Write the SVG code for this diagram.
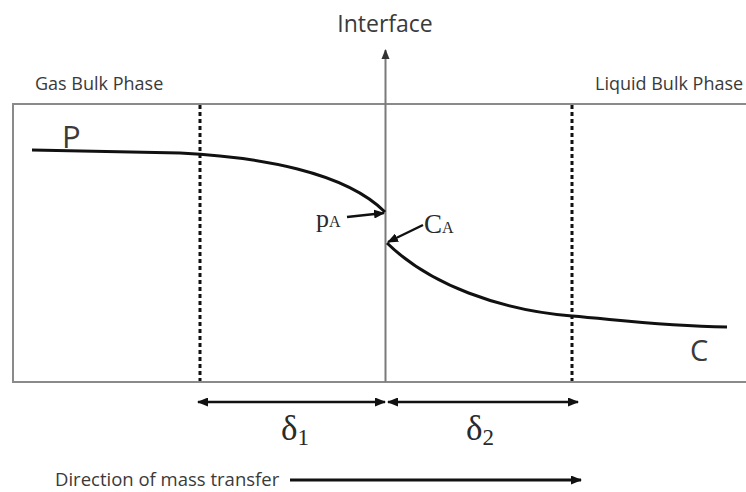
<svg xmlns="http://www.w3.org/2000/svg" width="746" height="492" viewBox="0 0 746 492">
<style>
.lbl{font-family:"Open Sans","Liberation Sans",sans-serif;fill:#3a3a3a}
.ser{font-family:"Liberation Serif","DejaVu Serif",serif;fill:#2a2a2a}
.box{fill:none;stroke:#8a8a8a;stroke-width:2}
.dash{stroke:#111;stroke-width:3;stroke-dasharray:4 3}
.curve{fill:none;stroke:#111;stroke-width:3}
.arr{stroke:#111;stroke-width:2.5;fill:none}
</style>
<defs>
<marker id="ah" markerWidth="11" markerHeight="9" refX="10" refY="4.5" orient="auto" markerUnits="userSpaceOnUse"><path d="M0,0 L11,4.5 L0,9 Z" fill="#111"/></marker>
<marker id="ahs" markerWidth="11" markerHeight="9" refX="1" refY="4.5" orient="auto" markerUnits="userSpaceOnUse"><path d="M11,0 L0,4.5 L11,9 Z" fill="#111"/></marker>
<marker id="ahi" markerWidth="10" markerHeight="10" refX="9" refY="5" orient="auto" markerUnits="userSpaceOnUse"><path d="M0,1 L10,5 L0,9 Z" fill="#333"/></marker>
</defs>
<g id="frame">
<path class="box" d="M748,104 H13 V382 H748"/>
</g>
<g id="dashes">
<line class="dash" x1="200" y1="105" x2="200" y2="381"/>
<line class="dash" x1="572" y1="105" x2="572" y2="381"/>
</g>
<g id="interface">
<line x1="385.5" y1="382" x2="385.5" y2="50" stroke="#7a7a7a" stroke-width="2" marker-end="url(#ahi)"/>
<text class="lbl" x="385" y="32" font-size="23" text-anchor="middle">Interface</text>
</g>
<g id="labels">
<text class="lbl" x="35" y="90" font-size="18">Gas Bulk Phase</text>
<text class="lbl" x="595" y="90" font-size="18">Liquid Bulk Phase</text>
<text class="lbl" x="62" y="148" font-size="31">P</text>
<text class="lbl" x="690" y="361" font-size="29">C</text>
<text class="ser" x="316" y="227" font-size="26">p<tspan font-size="16">A</tspan></text>
<text class="ser" x="424" y="233" font-size="27">C<tspan font-size="16">A</tspan></text>
<text class="ser" x="281" y="440" font-size="35">δ<tspan font-size="23" dy="5">1</tspan></text>
<text class="ser" x="466" y="440" font-size="35">δ<tspan font-size="23" dy="5">2</tspan></text>
<text class="lbl" x="55" y="486" font-size="18.5">Direction of mass transfer</text>
</g>
<g id="curves">
<path class="curve" d="M32,150 L180,153 C260,157 345,172 385,212"/>
<path class="curve" d="M387,243 C430,285 500,310 572,316 C620,320 660,326 727,327"/>
</g>
<g id="connectors">
<line class="arr" x1="347" y1="217" x2="384" y2="213" marker-end="url(#ah)"/>
<line class="arr" x1="423" y1="225" x2="388" y2="242" marker-end="url(#ah)"/>
<line class="arr" x1="198" y1="402" x2="385" y2="402" marker-start="url(#ahs)" marker-end="url(#ah)"/>
<line class="arr" x1="388" y1="402" x2="578" y2="402" marker-start="url(#ahs)" marker-end="url(#ah)"/>
<line x1="290" y1="480" x2="581" y2="480" stroke="#111" stroke-width="3" marker-end="url(#ah)"/>
</g>
</svg>
